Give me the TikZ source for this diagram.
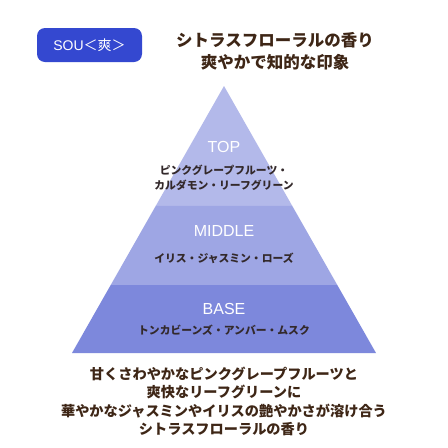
\documentclass[tikz,border=0pt]{standalone}
\usepackage{fontspec}
\usetikzlibrary{calc}
\setmainfont{Liberation Sans}
\newfontfamily\jp{Noto Sans CJK JP}
\definecolor{badge}{HTML}{3448D0}
\definecolor{topc}{HTML}{B3B9EA}
\definecolor{midc}{HTML}{9EA6E4}
\definecolor{basec}{HTML}{7D88DC}
\definecolor{brown}{HTML}{3E2616}
\definecolor{ink}{HTML}{33292B}
\tikzset{
  lvl/.style={text=white,font=\fontsize{16}{16}\selectfont,inner sep=0pt},
  note/.style={text=ink,font=\jp\bfseries\fontsize{10.8}{10.8}\selectfont,inner sep=0pt},
  title/.style={text=brown,font=\jp\bfseries\fontsize{16.5}{16.5}\selectfont,inner sep=0pt},
  desc/.style={text=brown,font=\jp\bfseries\fontsize{14.2}{14.2}\selectfont,inner sep=0pt},
}
\begin{document}
\begin{tikzpicture}[x=1pt,y=1pt]
\useasboundingbox (0,0) rectangle (448,-448);
\fill[white] (0,0) rectangle (448,-448);
% pyramid bands
\coordinate (apex) at (224,-86);
\coordinate (bl) at (72,-353);
\coordinate (br) at (376,-353);
\fill[topc] (apex) -- ($(apex)!0.4494!(bl)$) -- ($(apex)!0.4494!(br)$) -- cycle;
\fill[midc] ($(apex)!0.4494!(bl)$) -- ($(apex)!0.7453!(bl)$) -- ($(apex)!0.7453!(br)$) -- ($(apex)!0.4494!(br)$) -- cycle;
\fill[basec] ($(apex)!0.7453!(bl)$) -- (bl) -- (br) -- ($(apex)!0.7453!(br)$) -- cycle;
% badge
\node[fill=badge,rounded corners=8pt,minimum width=105pt,minimum height=34pt,inner sep=0pt,
  text=white,font=\fontsize{14}{14}\selectfont] (badge) at (89.5,-45) {SOU{\jp＜爽＞}};
% title
\node[title] (t1) at (275,-40) {シトラスフローラルの香り};
\node[title] (t2) at (275,-62) {爽やかで知的な印象};
% levels
\node[lvl] (top) at (224,-147) {TOP};
\node[note] (top1) at (224,-170) {ピンクグレープフルーツ・};
\node[note] (top2) at (224,-185) {カルダモン・リーフグリーン};
\node[lvl] (mid) at (224,-231) {MIDDLE};
\node[note] (mid1) at (224,-258) {イリス・ジャスミン・ローズ};
\node[lvl] (base) at (224,-309) {BASE};
\node[note] (base1) at (224,-330) {トンカビーンズ・アンバー・ムスク};
% description
\node[desc] (d1) at (224,-374) {甘くさわやかなピンクグレープフルーツと};
\node[desc] (d2) at (224,-392) {爽快なリーフグリーンに};
\node[desc] (d3) at (224,-411) {華やかなジャスミンやイリスの艶やかさが溶け合う};
\node[desc] (d4) at (224,-429) {シトラスフローラルの香り};
\end{tikzpicture}
\end{document}
